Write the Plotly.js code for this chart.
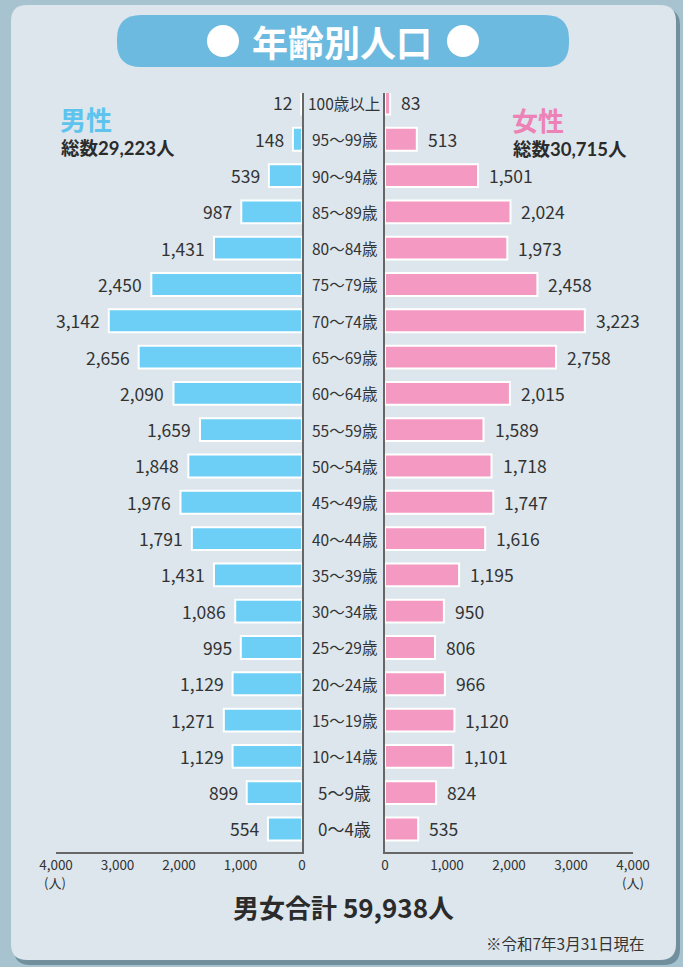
<!DOCTYPE html>
<html>
<head>
<meta charset="utf-8">
<script src="https://cdn.plot.ly/plotly-3.0.1.min.js"></script>
<style>
  html, body { margin: 0; padding: 0; background: #a7c3cf; }
  #chart { width: 683px; height: 967px; }
</style>
</head>
<body>
<div id="chart"></div>
<script>
// ---- data (top to bottom) ----
const ageGroups = ["100歳以上","95〜99歳","90〜94歳","85〜89歳","80〜84歳","75〜79歳","70〜74歳","65〜69歳","60〜64歳","55〜59歳","50〜54歳","45〜49歳","40〜44歳","35〜39歳","30〜34歳","25〜29歳","20〜24歳","15〜19歳","10〜14歳","5〜9歳","0〜4歳"];
const maleCounts = [12,148,539,987,1431,2450,3142,2656,2090,1659,1848,1976,1791,1431,1086,995,1129,1271,1129,899,554];
const femaleCounts = [83,513,1501,2024,1973,2458,3223,2758,2015,1589,1718,1747,1616,1195,950,806,966,1120,1101,824,535];
const axisTicks = [0,1000,2000,3000,4000];
const titleText = "年齢別人口";
const maleLabel = "男性", maleTotal = "総数29,223人";
const femaleLabel = "女性", femaleTotal = "総数30,715人";
const grandTotal = "男女合計 59,938人";
const noteText = "※令和7年3月31日現在";
const unitText = "(人)";

const W = 683, H = 967;
const px = x => x / W;
const py = y => 1 - y / H;
const FONT = '"Noto Sans CJK JP", "Noto Sans", sans-serif';
const LEGFONT = 'Lato, "Noto Sans CJK JP", sans-serif';

function roundRect(x0, y0, x1, y1, r) {
  const X = v => px(v).toFixed(5), Y = v => py(v).toFixed(5);
  return `M${X(x0 + r)},${Y(y0)} L${X(x1 - r)},${Y(y0)} Q${X(x1)},${Y(y0)} ${X(x1)},${Y(y0 + r)} ` +
         `L${X(x1)},${Y(y1 - r)} Q${X(x1)},${Y(y1)} ${X(x1 - r)},${Y(y1)} ` +
         `L${X(x0 + r)},${Y(y1)} Q${X(x0)},${Y(y1)} ${X(x0)},${Y(y1 - r)} ` +
         `L${X(x0)},${Y(y0 + r)} Q${X(x0)},${Y(y0)} ${X(x0 + r)},${Y(y0)} Z`;
}

const fmt = v => v.toLocaleString('en-US');

const male = {
  type: 'bar', orientation: 'h',
  x: maleCounts, y: ageGroups,
  xaxis: 'x', yaxis: 'y',
  width: 0.63,
  marker: { color: '#6dcff5', line: { color: '#ffffff', width: 2 } },
  hoverinfo: 'skip'
};
const female = {
  type: 'bar', orientation: 'h',
  x: femaleCounts, y: ageGroups,
  xaxis: 'x2', yaxis: 'y2',
  width: 0.63,
  marker: { color: '#f49ac2', line: { color: '#ffffff', width: 2 } },
  hoverinfo: 'skip'
};

const yDomain = [py(852), py(93)];
const yRange = [20.634, -0.275];

const annotations = [];
ageGroups.forEach((g, i) => {
  annotations.push({
    xref: 'paper', yref: 'y', x: px(344), y: g, text: g, showarrow: false,
    xanchor: 'center', yanchor: 'middle',
    font: { family: FONT, size: g.length > 5 ? 15.5 : 17, color: '#333333' }
  });
  annotations.push({
    xref: 'x', yref: 'y', x: maleCounts[i], y: g, text: fmt(maleCounts[i]), showarrow: false,
    xanchor: 'right', yanchor: 'middle', xshift: -7,
    font: { family: FONT, size: 17.5, color: '#333333' }
  });
  annotations.push({
    xref: 'x2', yref: 'y', x: femaleCounts[i], y: g, text: fmt(femaleCounts[i]), showarrow: false,
    xanchor: 'left', yanchor: 'middle', xshift: 9,
    font: { family: FONT, size: 17.5, color: '#333333' }
  });
});
annotations.push(
  { xref: 'paper', yref: 'paper', x: px(342), y: py(41), text: titleText, showarrow: false,
    xanchor: 'center', yanchor: 'middle', font: { family: FONT, size: 36, color: '#ffffff', weight: 'bold' } },
  { xref: 'paper', yref: 'paper', x: px(58), y: py(120.5), text: maleLabel, showarrow: false,
    xanchor: 'left', yanchor: 'middle', font: { family: LEGFONT, size: 26, color: '#5ec4ee', weight: 'bold' } },
  { xref: 'paper', yref: 'paper', x: px(59), y: py(148.5), text: maleTotal, showarrow: false,
    xanchor: 'left', yanchor: 'middle', font: { family: LEGFONT, size: 18.5, color: '#2b2b2b', weight: 'bold' } },
  { xref: 'paper', yref: 'paper', x: px(510), y: py(121.5), text: femaleLabel, showarrow: false,
    xanchor: 'left', yanchor: 'middle', font: { family: LEGFONT, size: 26, color: '#ec82b5', weight: 'bold' } },
  { xref: 'paper', yref: 'paper', x: px(511), y: py(149), text: femaleTotal, showarrow: false,
    xanchor: 'left', yanchor: 'middle', font: { family: LEGFONT, size: 18.5, color: '#2b2b2b', weight: 'bold' } },
  { xref: 'paper', yref: 'paper', x: px(42), y: py(882), text: unitText, showarrow: false,
    xanchor: 'left', yanchor: 'middle', font: { family: FONT, size: 13, color: '#333333' } },
  { xref: 'paper', yref: 'paper', x: px(646), y: py(882), text: unitText, showarrow: false,
    xanchor: 'right', yanchor: 'middle', font: { family: FONT, size: 13, color: '#333333' } },
  { xref: 'paper', yref: 'paper', x: px(343), y: py(906), text: grandTotal, showarrow: false,
    xanchor: 'center', yanchor: 'middle', font: { family: FONT, size: 26, color: '#2b2b2b', weight: 'bold' } },
  { xref: 'paper', yref: 'paper', x: px(646), y: py(943), text: noteText, showarrow: false,
    xanchor: 'right', yanchor: 'middle', font: { family: FONT, size: 15.5, color: '#333333' } }
);

const shapes = [
  { type: 'path', xref: 'paper', yref: 'paper', path: roundRect(14, 9, 680, 965, 16),
    fillcolor: 'rgba(70,100,115,0.55)', line: { width: 0 }, layer: 'below' },
  { type: 'path', xref: 'paper', yref: 'paper', path: roundRect(11, 5, 676, 960, 16),
    fillcolor: '#dce6ec', line: { width: 0 }, layer: 'below' },
  { type: 'path', xref: 'paper', yref: 'paper', path: roundRect(117, 15, 569, 67, 24),
    fillcolor: '#6dbae0', line: { width: 0 }, layer: 'below' },
  { type: 'circle', xref: 'paper', yref: 'paper', x0: px(207), x1: px(239), y0: py(25), y1: py(57),
    fillcolor: '#ffffff', line: { width: 0 }, layer: 'below' },
  { type: 'circle', xref: 'paper', yref: 'paper', x0: px(447), x1: px(479), y0: py(25), y1: py(57),
    fillcolor: '#ffffff', line: { width: 0 }, layer: 'below' }
];

const axisCommon = {
  showline: true, linecolor: '#666666', linewidth: 2,
  ticks: '', showgrid: false, zeroline: false,
  tickvals: axisTicks, tickformat: ',d',
  tickfont: { family: FONT, size: 13.5, color: '#333333' },
  fixedrange: true
};

const layout = {
  width: W, height: H,
  margin: { l: 0, r: 0, t: 0, b: 0, pad: 0 },
  paper_bgcolor: '#a7c3cf',
  plot_bgcolor: 'rgba(0,0,0,0)',
  showlegend: false,
  barmode: 'overlay',
  font: { family: FONT },
  xaxis: Object.assign({}, axisCommon, { domain: [px(56), px(302)], range: [4000, 0], anchor: 'y' }),
  xaxis2: Object.assign({}, axisCommon, { domain: [px(385), px(633)], range: [0, 4000], anchor: 'y2' }),
  yaxis: { domain: yDomain, range: yRange, type: 'category', categoryarray: ageGroups,
    anchor: 'x', side: 'right', showline: true, linecolor: '#666666', linewidth: 2,
    showticklabels: false, ticks: '', showgrid: false, zeroline: false, fixedrange: true },
  yaxis2: { domain: yDomain, range: yRange, type: 'category', categoryarray: ageGroups,
    anchor: 'x2', side: 'left', overlaying: 'y', matches: 'y', showline: true, linecolor: '#666666', linewidth: 2,
    showticklabels: false, ticks: '', showgrid: false, zeroline: false, fixedrange: true },
  shapes: shapes,
  annotations: annotations
};

Plotly.newPlot('chart', [male, female], layout, { displayModeBar: false, staticPlot: true });
</script>
</body>
</html>
